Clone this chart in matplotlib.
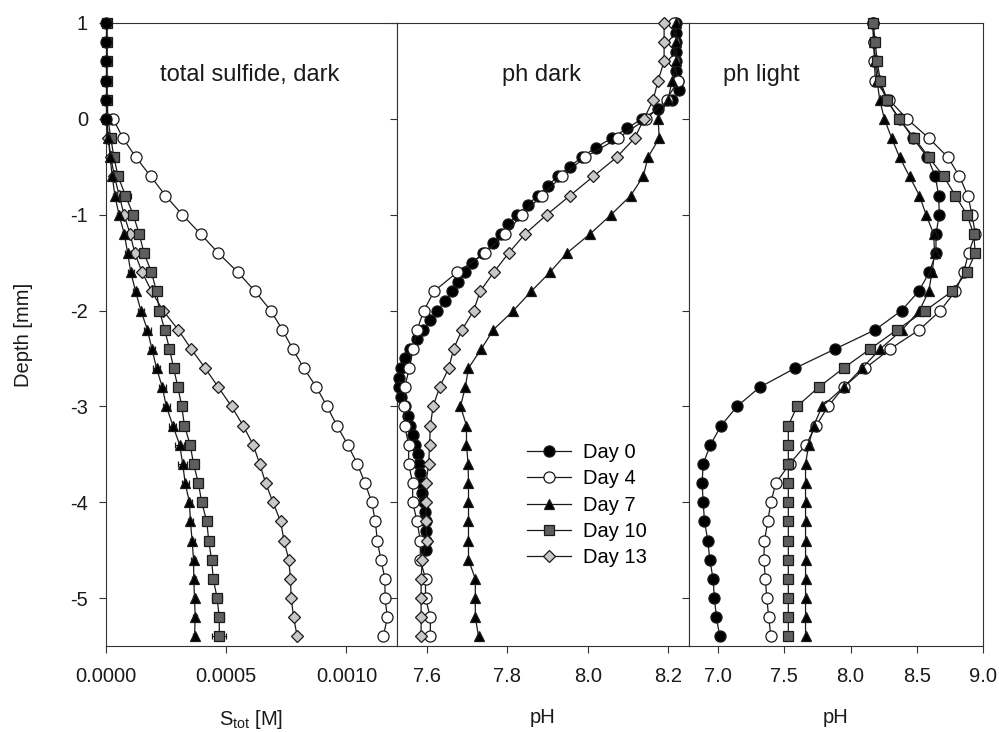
import numpy as np
import matplotlib.pyplot as plt
from matplotlib.ticker import FormatStrFormatter, MultipleLocator
from matplotlib.lines import Line2D

plt.rcParams['font.family'] = ['Liberation Sans', 'DejaVu Sans']
plt.rcParams['font.size'] = 14.5
plt.rcParams['axes.unicode_minus'] = False
plt.rcParams['mathtext.default'] = 'regular'

# depth grids [mm]
depth = [1.0, 0.8, 0.6, 0.4, 0.2, 0.0, -0.2, -0.4, -0.6, -0.8, -1.0, -1.2, -1.4, -1.6, -1.8, -2.0,
         -2.2, -2.4, -2.6, -2.8, -3.0, -3.2, -3.4, -3.6, -3.8, -4.0, -4.2, -4.4, -4.6, -4.8, -5.0,
         -5.2, -5.4]
depth_top = depth[:6]        # 1.0 .. 0.0
depth_sed = depth[5:]        # 0.0 .. -5.4
depth_fine = [1.0, 0.9, 0.8, 0.7, 0.6, 0.5, 0.4, 0.3, 0.2, 0.1, 0.0, -0.1, -0.2, -0.3, -0.4, -0.5,
              -0.6, -0.7, -0.8, -0.9, -1.0, -1.1, -1.2, -1.3, -1.4, -1.5, -1.6, -1.7, -1.8, -1.9,
              -2.0, -2.1, -2.2, -2.3, -2.4, -2.5, -2.6, -2.7, -2.8, -2.9, -3.0, -3.1, -3.2, -3.3,
              -3.4, -3.5, -3.6, -3.7, -3.8, -3.9, -4.0, -4.1, -4.2, -4.3, -4.4, -4.5]

# total sulfide, dark [M]
s_day0 = [0, 0, 0, 0, 0, 0]
s_day4 = [0.00003, 0.00007, 0.000124, 0.000186, 0.000247, 0.000317, 0.000393, 0.000467, 0.000548,
          0.00062, 0.000685, 0.000733, 0.000776, 0.000822, 0.000875, 0.000919, 0.00096, 0.001005,
          0.001045, 0.001077, 0.001105, 0.00112, 0.001128, 0.001143, 0.00116, 0.00116, 0.00117,
          0.001153]
s_day7 = [0.000003, 0.00001, 0.000017, 0.000026, 0.000037, 0.000054, 0.000076, 0.00009, 0.000103,
          0.000123, 0.000145, 0.000172, 0.000191, 0.00021, 0.000234, 0.000251, 0.000278, 0.000306,
          0.000319, 0.000329, 0.000347, 0.000351, 0.000358, 0.000364, 0.000365, 0.000368,
          0.000371, 0.000368]
e_day7 = [0.000004, 0.000005, 0.000006, 0.000008, 0.000008, 0.00001, 0.00001, 0.000012, 0.000012,
          0.000012, 0.000012, 0.000014, 0.000014, 0.000014, 0.000015, 0.000015, 0.000015, 0.000018,
          0.000018, 0.000015, 0.000012, 0.00001, 0.00001, 0.00001, 0.000008, 0.000008, 0.000008,
          0.000008]
s_day10 = [0.000005, 0.000005, 0.000005, 0.000005, 0.000005, 0.000008, 0.00002, 0.000033, 0.00005,
           0.000081, 0.000113, 0.000138, 0.000158, 0.000189, 0.00021, 0.000222, 0.000244, 0.000264,
           0.000281, 0.000299, 0.000315, 0.000326, 0.00035, 0.000364, 0.000384, 0.000398, 0.000419,
           0.000427, 0.000439, 0.000446, 0.000462, 0.000471, 0.000471]
e_day10 = [0, 0, 0, 0, 0, 0.000005, 0.000008, 0.00001, 0.000012, 0.000025, 0.000015, 0.000015,
           0.000015, 0.000015, 0.000015, 0.000015, 0.000015, 0.000015, 0.000012, 0.000012, 0.000012,
           0.000012, 0.000015, 0.000015, 0.000012, 0.000012, 0.000012, 0.000012, 0.000012,
           0.000012, 0.00002, 0.000018, 0.00003]
s_day13 = [0.0, 0.00001, 0.00002, 0.000035, 0.000055, 0.000075, 0.0001, 0.00012, 0.00015, 0.00019,
           0.000237, 0.0003, 0.000354, 0.000412, 0.000467, 0.000522, 0.00057, 0.000612, 0.000639,
           0.000664, 0.000694, 0.000726, 0.00074, 0.00076, 0.000767, 0.00077, 0.00078, 0.000795]

# pH dark
phd_day0 = [8.22, 8.22, 8.22, 8.22, 8.22, 8.22, 8.225, 8.227, 8.21, 8.175, 8.135, 8.097, 8.06, 8.02,
            7.985, 7.955, 7.925, 7.9, 7.875, 7.85, 7.825, 7.802, 7.785, 7.765, 7.74, 7.712, 7.695,
            7.678, 7.662, 7.645, 7.625, 7.608, 7.59, 7.575, 7.558, 7.545, 7.535, 7.53, 7.53, 7.534,
            7.545, 7.552, 7.558, 7.565, 7.57, 7.577, 7.58, 7.582, 7.584, 7.588, 7.592, 7.594, 7.596,
            7.596, 7.597, 7.596]
phd_day4 = [8.215, 8.215, 8.215, 8.225, 8.196, 8.146, 8.076, 7.993, 7.935, 7.886, 7.836, 7.795,
            7.745, 7.675, 7.617, 7.592, 7.575, 7.565, 7.556, 7.544, 7.542, 7.544, 7.554, 7.554,
            7.564, 7.564, 7.575, 7.583, 7.583, 7.596, 7.596, 7.608, 7.608]
phd_day7 = [8.22, 8.22, 8.22, 8.21, 8.2, 8.175, 8.178, 8.15, 8.138, 8.107, 8.058, 8.006, 7.948,
            7.906, 7.859, 7.815, 7.765, 7.735, 7.703, 7.695, 7.683, 7.698, 7.698, 7.702, 7.703,
            7.703, 7.703, 7.703, 7.703, 7.72, 7.72, 7.72, 7.728]
phd_day13 = [8.19, 8.19, 8.19, 8.175, 8.163, 8.14, 8.117, 8.072, 8.014, 7.956, 7.898, 7.844, 7.803,
             7.766, 7.732, 7.716, 7.687, 7.666, 7.654, 7.631, 7.615, 7.608, 7.606, 7.604, 7.597,
             7.597, 7.597, 7.6, 7.588, 7.585, 7.585, 7.585, 7.585]

# pH light
phl_day0 = [8.17, 8.174, 8.19, 8.215, 8.27, 8.37, 8.47, 8.58, 8.64, 8.665, 8.67, 8.645, 8.645,
            8.595, 8.514, 8.385, 8.187, 7.885, 7.583, 7.314, 7.143, 7.023, 6.942, 6.887, 6.879,
            6.887, 6.897, 6.922, 6.937, 6.962, 6.972, 6.987, 7.012]
phl_day4 = [8.17, 8.175, 8.18, 8.187, 8.29, 8.426, 8.59, 8.735, 8.822, 8.885, 8.917, 8.942, 8.891,
            8.854, 8.791, 8.678, 8.52, 8.3, 8.112, 7.948, 7.83, 7.74, 7.663, 7.54, 7.436, 7.398,
            7.375, 7.35, 7.345, 7.357, 7.367, 7.382, 7.398]
phl_day7 = [8.17, 8.175, 8.185, 8.2, 8.22, 8.255, 8.31, 8.37, 8.445, 8.52, 8.57, 8.627, 8.635,
            8.615, 8.59, 8.52, 8.39, 8.225, 8.087, 7.948, 7.785, 7.722, 7.684, 7.66, 7.66, 7.66,
            7.66, 7.66, 7.66, 7.66, 7.66, 7.66, 7.66]
phl_day10 = [8.17, 8.187, 8.2, 8.225, 8.275, 8.363, 8.482, 8.59, 8.703, 8.791, 8.879, 8.929, 8.942,
             8.879, 8.766, 8.565, 8.351, 8.149, 7.948, 7.759, 7.596, 7.53, 7.53, 7.53, 7.53, 7.53,
             7.53, 7.53, 7.53, 7.53, 7.53, 7.53, 7.53]

labels = ['Day 0', 'Day 4', 'Day 7', 'Day 10', 'Day 13']
st = {
    'Day 0': dict(marker='o', mfc='black', ms=8),
    'Day 4': dict(marker='o', mfc='white', ms=8),
    'Day 7': dict(marker='^', mfc='black', ms=7.5),
    'Day 10': dict(marker='s', mfc='#5e5e5e', ms=7),
    'Day 13': dict(marker='D', mfc='#c8c8c8', ms=6.2),
}
ink = '#1a1a1a'


def draw(ax, x, y, day, z=2):
    ax.plot(x, y, color=ink, lw=0.9, mec=ink, mew=0.9, zorder=z, clip_on=False, **st[day])


fig = plt.figure(figsize=(9.99, 7.32), dpi=100)
bot = 1 - 646 / 732
hgt = (646 - 23) / 732
ax1 = fig.add_axes([106 / 999, bot, 291 / 999, hgt])
ax2 = fig.add_axes([397 / 999, bot, 292 / 999, hgt])
ax3 = fig.add_axes([689 / 999, bot, 294 / 999, hgt])

# panel 1: sulfide
draw(ax1, s_day13, depth_sed, 'Day 13')
ax1.errorbar(s_day10, depth, xerr=e_day10, color=ink, lw=0.9, mec=ink, mew=0.9, clip_on=False,
             capsize=2, elinewidth=0.8, zorder=3, **st['Day 10'])
ax1.errorbar(s_day7, depth_sed, xerr=e_day7, color=ink, lw=0.9, mec=ink, mew=0.9, clip_on=False,
             capsize=2, elinewidth=0.8, zorder=4, **st['Day 7'])
draw(ax1, s_day4, depth_sed, 'Day 4', z=4)
draw(ax1, s_day0, depth_top, 'Day 0', z=5)

# panel 2: pH dark
draw(ax2, phd_day0, depth_fine, 'Day 0')
draw(ax2, phd_day4, depth, 'Day 4')
draw(ax2, phd_day7, depth, 'Day 7')
draw(ax2, phd_day13, depth, 'Day 13')

# panel 3: pH light
draw(ax3, phl_day0, depth, 'Day 0')
draw(ax3, phl_day4, depth, 'Day 4')
draw(ax3, phl_day7, depth, 'Day 7')
draw(ax3, phl_day10, depth, 'Day 10')

ax1.set_xlim(0, 0.00121)
ax2.set_xlim(7.525, 8.252)
ax3.set_xlim(6.78, 9.0)
ax1.xaxis.set_major_locator(MultipleLocator(0.0005))
ax1.xaxis.set_major_formatter(FormatStrFormatter('%.4f'))
ax2.xaxis.set_major_locator(MultipleLocator(0.2))
ax2.xaxis.set_major_formatter(FormatStrFormatter('%.1f'))
ax3.xaxis.set_major_locator(MultipleLocator(0.5))
ax3.xaxis.set_major_formatter(FormatStrFormatter('%.1f'))

for ax in (ax1, ax2, ax3):
    ax.set_ylim(-5.5, 1)
    ax.set_yticks([1, 0, -1, -2, -3, -4, -5])
    ax.tick_params(direction='out', length=5, width=0.8, colors='#333333', labelcolor=ink)
    ax.tick_params(axis='x', pad=10)
    ax.tick_params(axis='y', pad=8)
    for sp in ax.spines.values():
        sp.set_linewidth(0.8)
        sp.set_color('#333333')
        sp.set_zorder(1)
ax2.tick_params(axis='y', labelleft=False)
ax3.tick_params(axis='y', labelleft=False)
ax1.yaxis.set_major_formatter(FormatStrFormatter('%d'))

ax1.set_ylabel('Depth [mm]', color=ink)
ax1.yaxis.set_label_coords(-0.25, 0.5)
ax1.set_xlabel('S$_{tot}$ [M]', color=ink)
ax2.set_xlabel('pH', color=ink)
ax3.set_xlabel('pH', color=ink)
for ax in (ax1, ax2, ax3):
    ax.xaxis.set_label_coords(0.5, -0.1)

ax1.text(0.495, 0.917, 'total sulfide, dark', transform=ax1.transAxes, ha='center', va='center',
         fontsize=17, color=ink)
ax2.text(0.495, 0.917, 'ph dark', transform=ax2.transAxes, ha='center', va='center',
         fontsize=17, color=ink)
ax3.text(0.115, 0.917, 'ph light', transform=ax3.transAxes, ha='left', va='center',
         fontsize=17, color=ink)

handles = [Line2D([], [], color=ink, lw=0.9, mec=ink, mew=0.9, **st[d]) for d in labels]
ax2.legend(handles, labels, loc='center left', bbox_to_anchor=(0.41, 0.226), frameon=False,
           handlelength=2.2, labelspacing=0.36, handletextpad=0.6, borderpad=0, fontsize=14.5)

fig.savefig('out.png', dpi=100)
